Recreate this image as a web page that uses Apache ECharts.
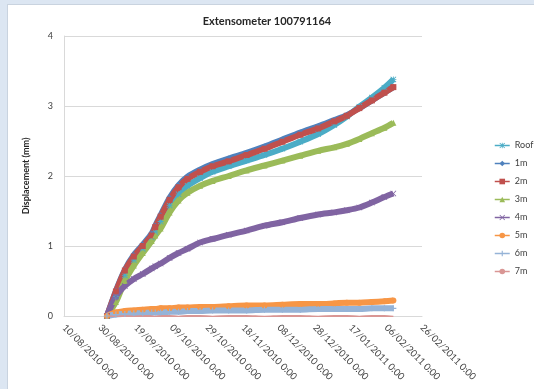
<!DOCTYPE html>
<html>
<head>
<meta charset="utf-8">
<script src="https://cdn.jsdelivr.net/npm/echarts@6/dist/echarts.min.js"></script>
<style>
  html, body { margin: 0; padding: 0; background: #dce6f2; }
  #panel { position: absolute; left: 7px; top: 4px; width: 540px; height: 400px; background: #ffffff; border: 1px solid #c9d3df; }
  #chart { position: absolute; left: 0; top: 0; width: 534px; height: 389px; }
</style>
</head>
<body>
<div id="panel"></div>
<div id="chart"></div>
<script>
// Reading dates (dd/mm/yyyy)
const dates = [
  '03/09/2010', '08/09/2010', '13/09/2010', '18/09/2010', '23/09/2010',
  '28/09/2010', '30/09/2010', '03/10/2010', '08/10/2010', '13/10/2010',
  '18/10/2010', '25/10/2010', '01/11/2010', '10/11/2010', '20/11/2010',
  '30/11/2010', '10/12/2010', '20/12/2010', '30/12/2010', '08/01/2011',
  '15/01/2011', '22/01/2011', '29/01/2011', '05/02/2011', '10/02/2011'
];

// Displacement (mm) per anchor depth
const roof = [0, 0.28, 0.58, 0.80, 0.96, 1.12, 1.20, 1.35, 1.58, 1.74, 1.86, 1.97, 2.06, 2.14, 2.22, 2.30, 2.39, 2.49, 2.60, 2.73, 2.85, 2.99, 3.12, 3.26, 3.38];
const m1   = [0, 0.36, 0.66, 0.87, 1.02, 1.18, 1.29, 1.44, 1.69, 1.87, 1.99, 2.09, 2.17, 2.25, 2.33, 2.42, 2.52, 2.62, 2.71, 2.80, 2.87, 2.97, 3.08, 3.19, 3.27];
const m2   = [0, 0.35, 0.65, 0.85, 1.00, 1.15, 1.27, 1.42, 1.66, 1.84, 1.96, 2.06, 2.14, 2.21, 2.30, 2.39, 2.49, 2.59, 2.68, 2.78, 2.86, 2.97, 3.08, 3.19, 3.27];
const m3   = [0, 0.20, 0.50, 0.72, 0.90, 1.07, 1.15, 1.25, 1.48, 1.65, 1.76, 1.86, 1.93, 2.00, 2.08, 2.15, 2.22, 2.29, 2.36, 2.41, 2.46, 2.53, 2.61, 2.69, 2.76];
const m4   = [0, 0.28, 0.43, 0.53, 0.60, 0.68, 0.71, 0.75, 0.83, 0.90, 0.96, 1.05, 1.10, 1.16, 1.22, 1.29, 1.34, 1.40, 1.45, 1.48, 1.51, 1.55, 1.62, 1.70, 1.75];
const m5   = [0, 0.05, 0.07, 0.08, 0.09, 0.10, 0.10, 0.11, 0.11, 0.12, 0.12, 0.13, 0.13, 0.14, 0.15, 0.15, 0.16, 0.17, 0.17, 0.18, 0.19, 0.19, 0.20, 0.21, 0.22];
const m6   = [0, 0.02, 0.03, 0.04, 0.04, 0.05, 0.05, 0.05, 0.06, 0.06, 0.07, 0.07, 0.08, 0.08, 0.08, 0.09, 0.09, 0.09, 0.10, 0.10, 0.10, 0.10, 0.11, 0.11, 0.11];
const m7   = [0, -0.01, 0, -0.01, 0, 0, -0.01, 0, 0, -0.01, 0, 0, -0.01, 0, 0, -0.01, 0, 0, -0.01, 0, 0, -0.01, 0, 0, -0.01];

// Axis settings (spreadsheet serial day numbers)
const xMin = 40400;     // 10/08/2010
const xMax = 40600;     // 26/02/2011
const xStep = 20;
const yTicks = [0, 1, 2, 3, 4];

// dd/mm/yyyy -> spreadsheet serial day number
function toSerial(s) {
  const [d, m, y] = s.split('/').map(Number);
  const ms = Date.UTC(y, m - 1, d) - Date.UTC(1899, 11, 30);
  return Math.round(ms / 86400000);
}
function fromSerial(n) {
  const dt = new Date(Date.UTC(1899, 11, 30) + n * 86400000);
  const dd = String(dt.getUTCDate()).padStart(2, '0');
  const mm = String(dt.getUTCMonth() + 1).padStart(2, '0');
  return dd + '/' + mm + '/' + dt.getUTCFullYear() + ' 0:00';
}
const xs = dates.map(toSerial);
const pairs = vals => vals.map((v, i) => [xs[i], v]);

const star = 'path://M4.3,0H5.7V4.3H10V5.7H5.7V10H4.3V5.7H0V4.3H4.3Z M1,0L5,4L9,0L10,1L6,5L10,9L9,10L5,6L1,10L0,9L4,5L0,1Z';
const cross = 'path://M0,1L1,0L5,4L9,0L10,1L6,5L10,9L9,10L5,6L1,10L0,9L4,5Z';
const plus = 'path://M4,0H6V4H10V6H6V10H4V6H0V4H4Z';

const seriesDefs = [
  { name: 'Roof', data: roof, color: '#4BACC6', symbol: star },
  { name: '1m',   data: m1,   color: '#4F81BD', symbol: 'diamond' },
  { name: '2m',   data: m2,   color: '#C0504D', symbol: 'rect' },
  { name: '3m',   data: m3,   color: '#9BBB59', symbol: 'triangle' },
  { name: '4m',   data: m4,   color: '#8064A2', symbol: cross },
  { name: '5m',   data: m5,   color: '#F79646', symbol: 'circle' },
  { name: '6m',   data: m6,   color: '#95B3D7', symbol: plus },
  { name: '7m',   data: m7,   color: '#D99694', symbol: 'none' }
];

const chart = echarts.init(document.getElementById('chart'), null, { renderer: 'canvas' });
chart.setOption({
  backgroundColor: 'transparent',
  animation: false,
  title: {
    text: 'Extensometer 100791164',
    left: 'center',
    top: 11,
    textStyle: { fontFamily: 'Lato', fontSize: 11, fontWeight: 'bold', color: '#262626' }
  },
  legend: {
    orient: 'vertical',
    left: 494,
    top: 141,
    padding: 0,
    itemWidth: 15,
    itemHeight: 7,
    itemGap: 9,
    lineStyle: { width: 1.5 },
    textStyle: { fontFamily: 'Lato', fontSize: 9, color: '#404040' },
    data: seriesDefs.map(s => s.name)
  },
  grid: { left: 64, right: 112, top: 36, bottom: 73, containLabel: false },
  xAxis: {
    type: 'value',
    min: xMin,
    max: xMax,
    interval: xStep,
    axisLine: { show: true, lineStyle: { color: '#d9d9d9', width: 1 } },
    axisTick: { show: false },
    splitLine: { show: false },
    axisLabel: {
      rotate: -45,
      margin: 10,
      fontFamily: 'Lato',
      fontSize: 9.5,
      color: '#404040',
      formatter: v => fromSerial(v)
    }
  },
  yAxis: {
    type: 'value',
    min: yTicks[0],
    max: yTicks[yTicks.length - 1],
    interval: 1,
    name: 'Displacement (mm)',
    nameLocation: 'middle',
    nameGap: 33,
    nameRotate: 90,
    nameTextStyle: { fontFamily: 'Lato', fontSize: 9, fontWeight: 'bold', color: '#262626' },
    axisLine: { show: true, lineStyle: { color: '#d9d9d9', width: 1 } },
    axisTick: { show: false },
    splitLine: { show: true, lineStyle: { color: '#d9d9d9', width: 1 } },
    axisLabel: { margin: 11, fontFamily: 'Lato', fontSize: 9, color: '#404040' }
  },
  series: seriesDefs.map(s => ({
    name: s.name,
    type: 'line',
    data: pairs(s.data),
    color: s.color,
    symbol: s.symbol,
    symbolSize: 6,
    showSymbol: true,
    smooth: 0.3,
    lineStyle: { width: s.name === '7m' ? 2 : 6, color: s.color },
    itemStyle: { color: s.color }
  }))
});
</script>
</body>
</html>
